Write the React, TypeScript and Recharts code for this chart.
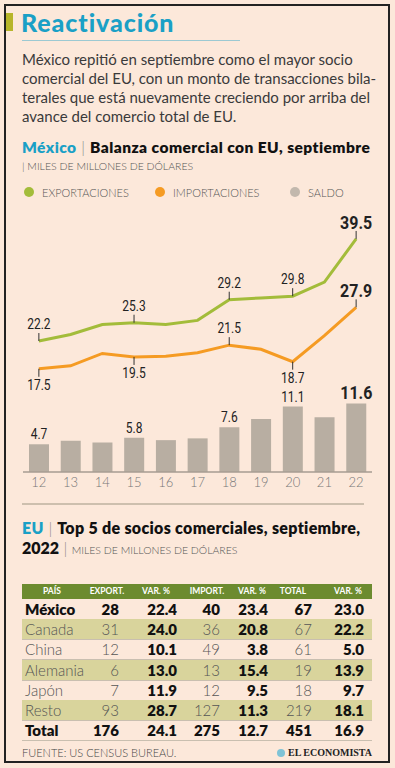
import React from "react";
import {
  Bar,
  ComposedChart,
  LabelList,
  Line,
  XAxis,
  YAxis,
} from "recharts";

const years = ["12", "13", "14", "15", "16", "17", "18", "19", "20", "21", "22"];
const exportaciones = [22.2, 23.3, 25.0, 25.3, 25.0, 25.7, 29.2, 29.5, 29.8, 32.2, 39.5];
const importaciones = [17.5, 18.0, 20.1, 19.5, 19.6, 20.2, 21.5, 20.8, 18.7, 23.1, 27.9];
const saldo = [4.7, 5.3, 5.0, 5.8, 5.4, 5.7, 7.6, 9.0, 11.1, 9.3, 11.6];

// years that carry a value label
const expLabeled = ["12", "15", "18", "20", "22"];
const impLabeled = ["12", "15", "18", "20", "22"];
const impBelow = ["12", "15", "20"];
const saldoLabeled = ["12", "15", "18", "20", "22"];

const paises = ["México", "Canada", "China", "Alemania", "Japón", "Resto", "Total"];
const exportPais = ["28", "31", "12", "6", "7", "93", "176"];
const varExport = ["22.4", "24.0", "10.1", "13.0", "11.9", "28.7", "24.1"];
const importPais = ["40", "36", "49", "13", "12", "127", "275"];
const varImport = ["23.4", "20.8", "3.8", "15.4", "9.5", "11.3", "12.7"];
const totalPais = ["67", "67", "61", "19", "18", "219", "451"];
const varTotal = ["23.0", "22.2", "5.0", "13.9", "9.7", "18.1", "16.9"];
const headers = ["PAÍS", "EXPORT.", "VAR. %", "IMPORT.", "VAR. %", "TOTAL", "VAR. %"];

const data = years.map((y, i) => ({
  year: y,
  exportaciones: exportaciones[i],
  importaciones: importaciones[i],
  saldo: saldo[i],
}));

const SANS = "'Lato', 'Noto Sans', sans-serif";
const COND = "'Roboto', sans-serif";
const GREEN = "#a3bc3a";
const ORANGE = "#f59b23";
const GREY = "#b8aea2";
const BG = "#fce8da";

const last = years.length - 1;

// narrow figures: no condensed face installed, so squeeze Roboto horizontally
function CondText({ x, y, big, children }: any) {
  return (
    <text
      transform={`translate(${x},${y}) scale(${big ? 0.84 : 0.8},1)`}
      textAnchor="middle"
      fontFamily={COND}
      fontSize={big ? 19 : 15}
      fontWeight={big ? 700 : 400}
      fill="#222"
    >
      {children}
    </text>
  );
}

function lineLabel(labeled: string[], below: string[]) {
  return (props: any) => {
    const { x, y, index, value } = props;
    const yr = years[index];
    if (!labeled.includes(yr)) return null;
    const big = index === last;
    const down = below.includes(yr);
    const lead = 8;
    const y2 = down ? y + lead : y - lead;
    const ty = down ? y + 21 : big ? y - 10 : y - 12;
    return (
      <g>
        <line x1={x} x2={x} y1={y} y2={y2} stroke="#333" strokeWidth={1} />
        <CondText x={x} y={ty} big={big}>
          {Number(value).toFixed(1)}
        </CondText>
      </g>
    );
  };
}

function barLabel(props: any) {
  const { x, y, width, index, value } = props;
  if (!saldoLabeled.includes(years[index])) return null;
  const big = index === last;
  return (
    <CondText x={x + width / 2} y={y - 5} big={big}>
      {Number(value).toFixed(1)}
    </CondText>
  );
}

const colRight = [0, 119, 177, 220, 268, 312, 364];
const colCenter = [52, 107, 156, 207, 252, 293, 348];

function Cell({ col, top, text, bold, light }: any) {
  const style: React.CSSProperties = {
    position: "absolute",
    top,
    height: 20,
    lineHeight: "20px",
    fontFamily: SANS,
    fontSize: 15,
    fontWeight: bold ? 800 : 300,
    color: light ? "#555" : "#111",
    whiteSpace: "nowrap",
  };
  if (col === 0) return <div style={{ ...style, left: 25 }}>{text}</div>;
  return <div style={{ ...style, right: 395 - colRight[col] }}>{text}</div>;
}

function Tabla() {
  const rowTop = (i: number) => 599 + i * 20.2;
  return (
    <>
      <div style={{ position: "absolute", left: 22, top: 584, width: 350, height: 15, background: "#6c8b2f" }} />
      {headers.map((h, i) => (
        <div
          key={i}
          style={{
            position: "absolute",
            left: colCenter[i] - 30,
            width: 60,
            top: 584,
            height: 15,
            lineHeight: "15px",
            textAlign: "center",
            color: "#fff",
            fontFamily: SANS,
            fontSize: 8.5,
            fontWeight: 700,
          }}
        >
          {h}
        </div>
      ))}
      {paises.map((p, i) => {
        const strong = i === 0 || i === paises.length - 1;
        const top = rowTop(i);
        return (
          <React.Fragment key={p}>
            {i % 2 === 1 && i < paises.length - 1 && (
              <div style={{ position: "absolute", left: 22, top, width: 350, height: 20, background: "#d9d49c" }} />
            )}
            <div style={{ position: "absolute", left: 22, top: top + 20, width: 350, height: 1, background: "#c9bfb0" }} />
            <Cell col={0} top={top} text={p} bold={strong} light={!strong} />
            <Cell col={1} top={top} text={exportPais[i]} bold={strong} light={!strong} />
            <Cell col={2} top={top} text={varExport[i]} bold />
            <Cell col={3} top={top} text={importPais[i]} bold={strong} light={!strong} />
            <Cell col={4} top={top} text={varImport[i]} bold />
            <Cell col={5} top={top} text={totalPais[i]} bold={strong} light={!strong} />
            <Cell col={6} top={top} text={varTotal[i]} bold />
          </React.Fragment>
        );
      })}
    </>
  );
}

const abs = (extra: React.CSSProperties): React.CSSProperties => ({
  position: "absolute",
  whiteSpace: "nowrap",
  ...extra,
});

export default function App() {
  const bodyLines = [
    "México repitió en septiembre como el mayor socio",
    "comercial del EU, con un monto de transacciones bila-",
    "terales que está nuevamente creciendo por arriba del",
    "avance del comercio total de EU.",
  ];
  const legend = [
    { label: "EXPORTACIONES", color: GREEN, x: 29 },
    { label: "IMPORTACIONES", color: ORANGE, x: 160 },
    { label: "SALDO", color: "#c2b8ad", x: 295 },
  ];
  return (
    <div
      style={{
        position: "absolute",
        left: 0,
        top: 0,
        width: 395,
        height: 768,
        background: BG,
        overflow: "hidden",
        fontFamily: SANS,
      }}
    >
      <div style={{ position: "absolute", left: 4, top: 4, width: 382, height: 755, border: "2px solid #222" }} />
      <div style={{ position: "absolute", left: 6, top: 13, width: 7, height: 18, background: "#b7b52a" }} />
      <div
        style={abs({
          left: 21,
          top: 6,
          fontSize: 25,
          fontWeight: 900,
          color: "#1aa0c6",
          lineHeight: "32px",
          letterSpacing: 0.9,
        })}
      >
        Reactivación
      </div>
      <div style={{ position: "absolute", left: 22, top: 40, width: 218, height: 1, background: "#9cc9d2" }} />
      {bodyLines.map((t, i) => (
        <div
          key={i}
          style={abs({ left: 22, top: 50 + i * 19, fontSize: 15, lineHeight: "19px", color: "#3a3a3a", fontWeight: 400 })}
        >
          {t}
        </div>
      ))}

      <div
        style={abs({
          left: 22,
          top: 137,
          fontSize: 15.5,
          lineHeight: "20px",
          fontWeight: 800,
          color: "#111",
          letterSpacing: 0.45,
        })}
      >
        <span style={{ color: "#1aa0c6" }}>México</span>
        <span style={{ fontWeight: 300, color: "#888" }}> | </span>
        Balanza comercial con EU, septiembre
      </div>
      <div style={abs({ left: 22, top: 159, fontSize: 10.5, lineHeight: "14px", color: "#555", fontWeight: 300 })}>
        | MILES DE MILLONES DE DÓLARES
      </div>
      {legend.map((l) => (
        <div key={l.label} style={abs({ left: l.x - 5, top: 185, height: 14, display: "flex", alignItems: "center" })}>
          <span style={{ width: 10, height: 10, borderRadius: 5, background: l.color, display: "inline-block" }} />
          <span style={{ marginLeft: 8, fontSize: 11, color: "#555", fontWeight: 300 }}>{l.label}</span>
        </div>
      ))}

      <div style={{ position: "absolute", left: 0, top: 200 }}>
        <ComposedChart
          width={395}
          height={300}
          data={data}
          margin={{ top: 36, right: 23, bottom: 6, left: 23 }}
        >
          <XAxis
            dataKey="year"
            interval={0}
            height={22}
            tickLine={false}
            tickMargin={0}
            axisLine={{ stroke: "#a79d92", strokeWidth: 1.5 }}
            tick={{ fill: "#777", fontSize: 13, fontFamily: SANS, fontWeight: 300 }}
          />
          <YAxis hide domain={[0, 40]} />
          <Bar dataKey="saldo" fill={GREY} barSize={20} isAnimationActive={false}>
            <LabelList dataKey="saldo" content={barLabel} />
          </Bar>
          <Line
            type="linear"
            dataKey="exportaciones"
            stroke={GREEN}
            strokeWidth={3}
            dot={false}
            isAnimationActive={false}
          >
            <LabelList dataKey="exportaciones" content={lineLabel(expLabeled, [])} />
          </Line>
          <Line
            type="linear"
            dataKey="importaciones"
            stroke={ORANGE}
            strokeWidth={3}
            dot={false}
            isAnimationActive={false}
          >
            <LabelList dataKey="importaciones" content={lineLabel(impLabeled, impBelow)} />
          </Line>
        </ComposedChart>
      </div>

      <div style={{ position: "absolute", left: 22, top: 503, width: 342, height: 2, background: "#cdbfae" }} />
      <div
        style={abs({
          left: 22,
          top: 518,
          fontSize: 16,
          lineHeight: "20px",
          fontWeight: 800,
          color: "#111",
          letterSpacing: 0.3,
        })}
      >
        <span style={{ color: "#1aa0c6" }}>EU</span>
        <span style={{ fontWeight: 300, color: "#888" }}> | </span>
        Top 5 de socios comerciales, septiembre,
      </div>
      <div style={abs({ left: 22, top: 538, fontSize: 16, lineHeight: "20px", fontWeight: 800, color: "#111" })}>
        2022
        <span style={{ fontWeight: 300, color: "#888" }}> | </span>
        <span style={{ fontWeight: 300, fontSize: 10.5, color: "#555" }}>MILES DE MILLONES DE DÓLARES</span>
      </div>

      <Tabla />

      <div style={abs({ left: 22, top: 746, fontSize: 11, lineHeight: "14px", color: "#444", fontWeight: 300 })}>
        FUENTE: US CENSUS BUREAU.
      </div>
      <div
        style={abs({
          right: 23,
          top: 746,
          fontSize: 10,
          lineHeight: "14px",
          color: "#222",
          fontWeight: 700,
          fontFamily: "'Liberation Serif', serif",
          display: "flex",
          alignItems: "center",
        })}
      >
        <span style={{ width: 8, height: 8, borderRadius: 4, background: "#7fc3d6", marginRight: 3, display: "inline-block" }} />
        EL ECONOMISTA
      </div>
    </div>
  );
}
